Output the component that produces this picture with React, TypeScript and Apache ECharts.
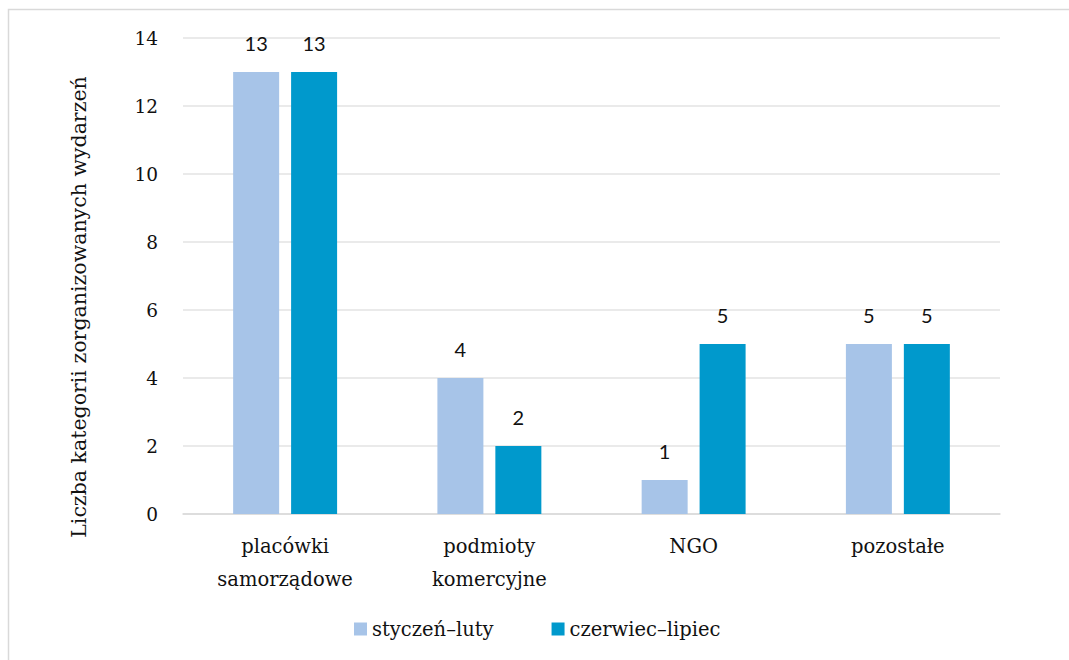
import React, { useEffect, useRef } from "react";
import * as echarts from "echarts";

const categories = ["placówki\nsamorządowe", "podmioty\nkomercyjne", "NGO", "pozostałe"];
const seriesNames = ["styczeń–luty", "czerwiec–lipiec"];
const styczenLuty = [13, 4, 1, 5];
const czerwiecLipiec = [13, 2, 5, 5];
const yAxisName = "Liczba kategorii zorganizowanych wydarzeń";
const colors = ["#A7C4E8", "#0099CC"];

const FONT = "DejaVu Serif";
const LABEL_FONT = "Lato";

export default function App() {
  const ref = useRef<HTMLDivElement>(null);
  useEffect(() => {
    if (!ref.current) return;
    const chart = echarts.init(ref.current, undefined, { renderer: "svg" });
    const label = {
      show: true,
      position: "top" as const,
      distance: 19,
      color: "#111",
      fontFamily: LABEL_FONT,
      fontSize: 20,
    };
    chart.setOption({
      animation: false,
      backgroundColor: "#fff",
      textStyle: { fontFamily: FONT },
      graphic: [
        {
          type: "rect",
          shape: { x: 8.5, y: 9.5, width: 1080, height: 680 },
          style: { fill: "none", stroke: "#d9d9d9", lineWidth: 1.5 },
          silent: true,
        },
        {
          type: "text",
          x: 79,
          y: 307,
          rotation: Math.PI / 2,
          silent: true,
          style: {
            text: yAxisName,
            fontFamily: FONT,
            fontSize: 20.5,
            fill: "#111",
            align: "center",
            verticalAlign: "middle",
          },
        },
      ],
      grid: { left: 183, right: 69, top: 38, bottom: 146 },
      legend: {
        bottom: 16,
        left: 349,
        itemWidth: 13,
        itemHeight: 13,
        itemGap: 58,
        icon: "rect",
        textStyle: { fontFamily: FONT, fontSize: 19.5, color: "#111" },
        data: seriesNames,
      },
      xAxis: {
        type: "category",
        data: categories,
        axisLine: { lineStyle: { color: "#d9d9d9", width: 1.5 } },
        axisTick: { show: false },
        axisLabel: {
          fontFamily: FONT,
          fontSize: 19.5,
          color: "#111",
          margin: 16,
          lineHeight: 33,
          interval: 0,
        },
      },
      yAxis: {
        type: "value",
        min: 0,
        max: 14,
        interval: 2,
        axisLine: { show: false },
        axisTick: { show: false },
        splitLine: { lineStyle: { color: "#e3e3e3", width: 1.5 } },
        axisLabel: { fontFamily: FONT, fontSize: 18.5, color: "#111", margin: 25 },
      },
      series: [
        {
          name: seriesNames[0],
          type: "bar",
          data: styczenLuty,
          barWidth: 46,
          barGap: "26%",
          itemStyle: { color: colors[0] },
          label,
        },
        {
          name: seriesNames[1],
          type: "bar",
          data: czerwiecLipiec,
          barWidth: 46,
          barGap: "26%",
          itemStyle: { color: colors[1] },
          label,
        },
      ],
    });
    return () => chart.dispose();
  }, []);
  return (
    <div
      ref={ref}
      style={{ position: "fixed", left: 0, top: 0, width: 1069, height: 660 }}
    />
  );
}
